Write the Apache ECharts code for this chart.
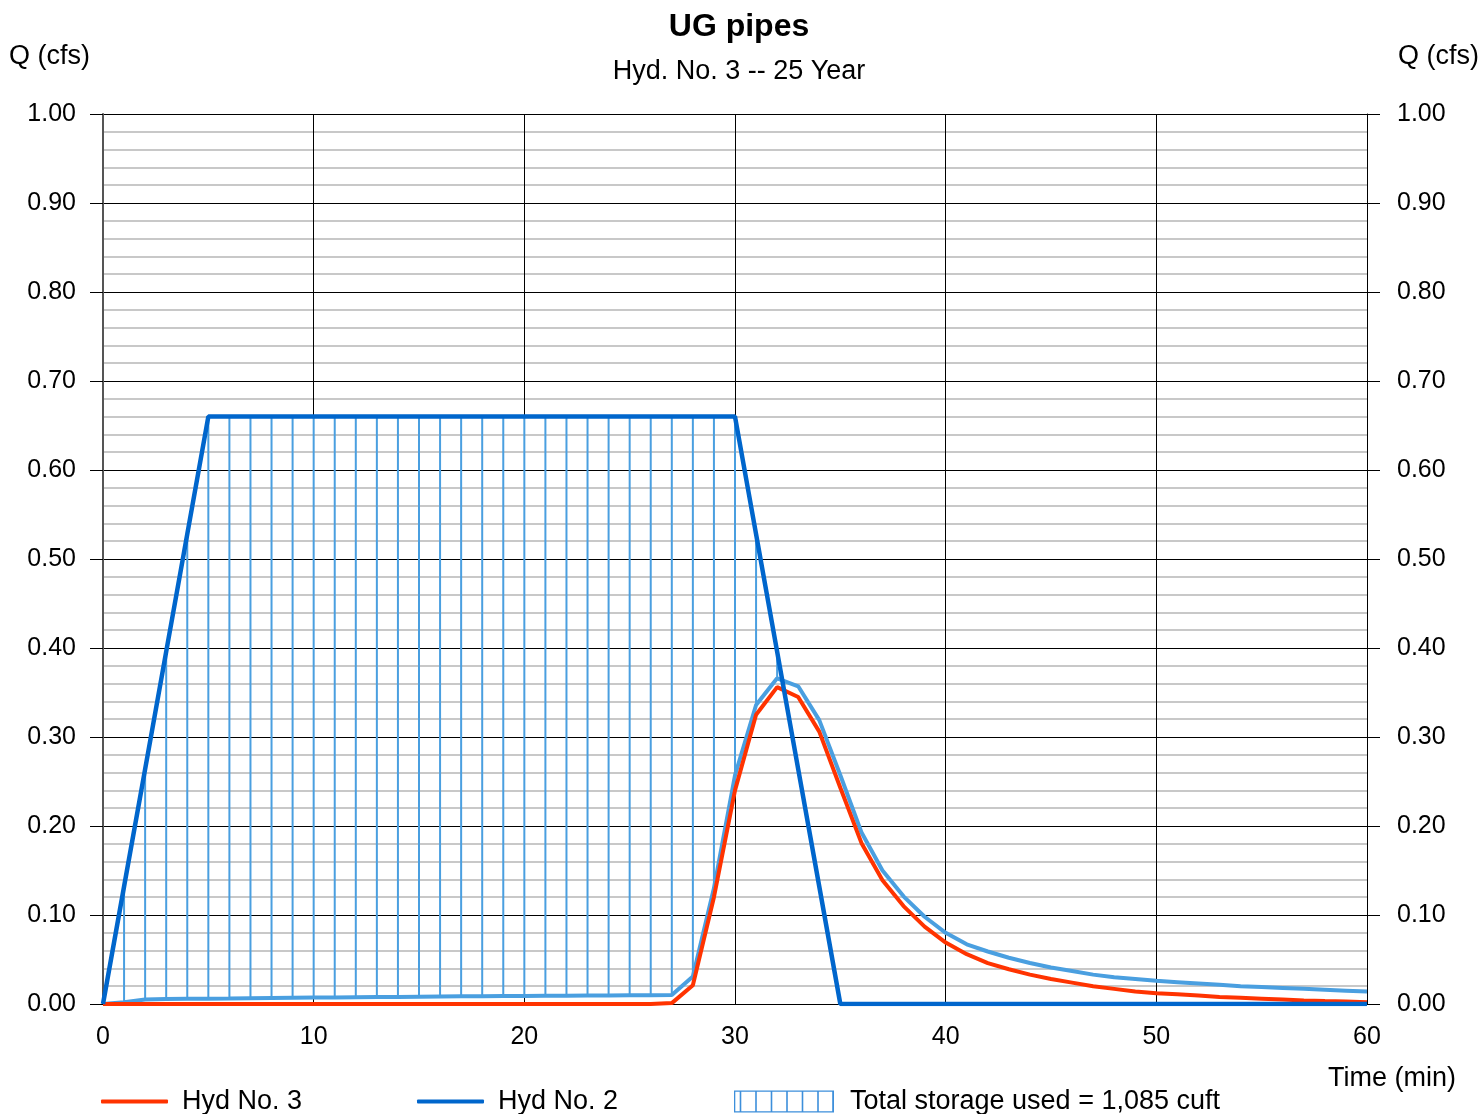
<!DOCTYPE html>
<html>
<head>
<meta charset="utf-8">
<script src="https://cdn.jsdelivr.net/npm/echarts@6/dist/echarts.min.js"></script>
<style>
html,body{margin:0;padding:0;background:#fff;}
#chart{width:1478px;height:1114px;}
</style>
</head>
<body>
<div id="chart"></div>
<script>
// ---- Data (minutes 0..60) ----
const minutes = Array.from({length: 61}, (_, i) => i);
const xTicks = [0, 10, 20, 30, 40, 50, 60];
const yTicks = [0, 0.1, 0.2, 0.3, 0.4, 0.5, 0.6, 0.7, 0.8, 0.9, 1.0];

// Hyd No. 2 (inflow, dark blue)
const hyd2 = [0, 0.132, 0.264, 0.396, 0.528,
  0.66, 0.66, 0.66, 0.66, 0.66, 0.66, 0.66, 0.66, 0.66, 0.66,
  0.66, 0.66, 0.66, 0.66, 0.66, 0.66, 0.66, 0.66, 0.66, 0.66,
  0.66, 0.66, 0.66, 0.66, 0.66, 0.66,
  0.528, 0.396, 0.264, 0.132,
  0, 0, 0, 0, 0, 0, 0, 0, 0, 0, 0, 0, 0, 0, 0, 0, 0, 0, 0, 0, 0, 0, 0, 0, 0, 0];

// Hyd No. 3 (outflow, red)
const hyd3 = [0, 0, 0, 0, 0, 0, 0, 0, 0, 0, 0, 0, 0, 0, 0, 0, 0, 0, 0, 0, 0, 0, 0, 0, 0, 0, 0,
  0.001, 0.021, 0.120, 0.240, 0.325, 0.356, 0.345, 0.306, 0.243, 0.181, 0.139, 0.110, 0.087,
  0.069, 0.056, 0.046, 0.039, 0.033, 0.028, 0.024, 0.020, 0.017, 0.014,
  0.012, 0.011, 0.0095, 0.008, 0.007, 0.006, 0.005, 0.004, 0.0033, 0.0027, 0.002];

// Storage boundary (light blue)
const storageLine = [0, 0.002, 0.005, 0.0055, 0.006, 0.006, 0.0062, 0.0065, 0.0068, 0.007,
  0.0072, 0.0074, 0.0076, 0.0078, 0.008, 0.0082, 0.0084, 0.0086, 0.0088, 0.009,
  0.0091, 0.0093, 0.0094, 0.0095, 0.0096, 0.0097, 0.0098, 0.010,
  0.031, 0.130, 0.257, 0.336, 0.366, 0.357, 0.319, 0.257, 0.193, 0.150, 0.121, 0.098,
  0.080, 0.067, 0.059, 0.052, 0.046, 0.041, 0.037, 0.033, 0.030, 0.028,
  0.026, 0.0245, 0.023, 0.0215, 0.020, 0.019, 0.018, 0.017, 0.016, 0.015, 0.014];

const storageLabel = 'Total storage used = 1,085 cuft';

// ---- Build ----
const FONT = '"Liberation Sans", Arial, sans-serif';
const RED = '#FF3300', BLUE = '#0066CC', LBLUE = '#4A9FE0';
const pair = arr => minutes.map(t => [t, arr[t]]);
const hatchData = minutes.filter(t => hyd2[t] > storageLine[t]).map(t => [t, storageLine[t], hyd2[t]]);

const hatchIcon = 'path://M0,0H100V1.3H0Z M0,20.7H100V22H0Z M0,0H1.3V22H0Z M98.2,0H100V22H98.2Z' +
  [6.5, 22, 37.5, 53, 68.5, 84].map(x => ` M${x - 0.8},0H${x + 0.8}V22H${x - 0.8}Z`).join('');

const TXT = {fontSize: 27, color: '#000', fontFamily: FONT};

const yAxisCommon = {
  type: 'value', min: 0, max: 1, interval: 0.1,
  axisLabel: {formatter: v => v.toFixed(2), fontSize: 25, color: '#000', fontFamily: FONT, padding: [4, 0, 0, 0]},
  axisTick: {show: true, inside: false, length: 13, lineStyle: {color: '#000', width: 1}},
  name: 'Q (cfs)', nameLocation: 'end', nameGap: 57,
};

const option = {
  animation: false,
  backgroundColor: '#fff',
  title: {
    text: 'UG pipes', subtext: 'Hyd. No. 3 -- 25 Year',
    left: 'center', top: 6, itemGap: 15,
    textStyle: {fontSize: 32, fontWeight: 'bold', color: '#000', fontFamily: FONT},
    subtextStyle: {fontSize: 27, color: '#000', fontFamily: FONT}
  },
  grid: {left: 103, right: 111, top: 114, bottom: 110, containLabel: false, outerBoundsMode: 'none'},
  xAxis: {
    type: 'value', min: 0, max: 60, interval: 10,
    axisLine: {show: true, lineStyle: {color: '#000', width: 1}},
    axisTick: {show: true, inside: true, length: 4, lineStyle: {color: '#000'}},
    axisLabel: {fontSize: 25, color: '#000', fontFamily: FONT, margin: 21, customValues: xTicks},
    splitLine: {show: true, lineStyle: {color: '#000', width: 1}},
    name: 'Time (min)', nameLocation: 'end', nameGap: 89,
    nameTextStyle: Object.assign({}, TXT, {align: 'right', verticalAlign: 'top', padding: [61, 0, 0, 0]})
  },
  yAxis: [
    Object.assign({}, yAxisCommon, {
      position: 'left',
      axisLine: {show: true, lineStyle: {color: '#555', width: 2}},
      axisLabel: Object.assign({}, yAxisCommon.axisLabel, {margin: 27}),
      splitLine: {show: true, lineStyle: {color: '#000', width: 1}},
      minorTick: {show: false, splitNumber: 5},
      minorSplitLine: {show: true, lineStyle: {color: '#C8C8C8', width: 2}},
      nameTextStyle: Object.assign({}, TXT, {align: 'right', verticalAlign: 'middle', padding: [0, 13, 0, 0]})
    }),
    Object.assign({}, yAxisCommon, {
      position: 'right',
      axisLine: {show: true, lineStyle: {color: '#000', width: 1}},
      axisLabel: Object.assign({}, yAxisCommon.axisLabel, {margin: 30}),
      splitLine: {show: false},
      nameTextStyle: Object.assign({}, TXT, {align: 'left', verticalAlign: 'middle', padding: [0, 0, 0, 31]})
    })
  ],
  legend: [
    {data: [{name: 'Hyd No. 3', icon: 'roundRect'}], left: 101, top: 1088, padding: 0, itemWidth: 67, itemHeight: 4,
     textStyle: Object.assign({}, TXT, {padding: [0, 0, 0, 9]})},
    {data: [{name: 'Hyd No. 2', icon: 'roundRect'}], left: 417, top: 1088, padding: 0, itemWidth: 67, itemHeight: 4,
     textStyle: Object.assign({}, TXT, {padding: [0, 0, 0, 9]})},
    {data: [{name: storageLabel, icon: hatchIcon}], left: 734, top: 1088, padding: 0, itemWidth: 102, itemHeight: 22,
     textStyle: Object.assign({}, TXT, {padding: [0, 0, 0, 10]})}
  ],
  series: [
    {
      name: storageLabel, type: 'custom', xAxisIndex: 0, yAxisIndex: 0, z: 2,
      itemStyle: {color: '#3D8FDB'},
      data: hatchData,
      renderItem: function (params, api) {
        const p1 = api.coord([api.value(0), api.value(1)]);
        const p2 = api.coord([api.value(0), api.value(2)]);
        return {type: 'line', shape: {x1: p1[0], y1: p1[1], x2: p2[0], y2: p2[1]},
                style: {stroke: LBLUE, lineWidth: 2}};
      }
    },
    {
      name: storageLabel, type: 'line', data: pair(storageLine), symbol: 'none', z: 3,
      lineStyle: {color: LBLUE, width: 4}, itemStyle: {color: '#3D8FDB'}
    },
    {
      name: 'Hyd No. 3', type: 'line', data: pair(hyd3), symbol: 'none', z: 4,
      lineStyle: {color: RED, width: 4}, itemStyle: {color: RED}
    },
    {
      name: 'Hyd No. 2', type: 'line', data: pair(hyd2), symbol: 'none', z: 5,
      lineStyle: {color: BLUE, width: 4.5}, itemStyle: {color: BLUE}
    }
  ]
};

const chart = echarts.init(document.getElementById('chart'), null, {renderer: 'canvas'});
chart.setOption(option);
</script>
</body>
</html>
